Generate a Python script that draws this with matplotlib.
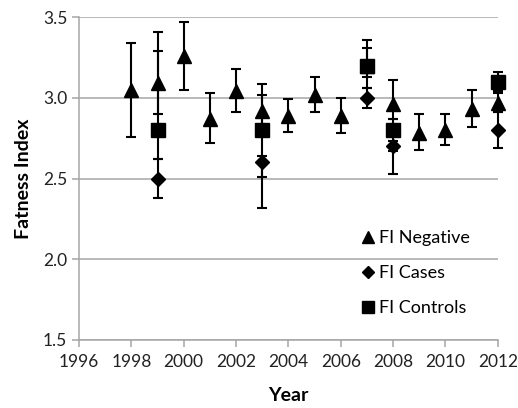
import matplotlib
matplotlib.use('Agg')
import matplotlib.pyplot as plt

plt.rcParams['font.family'] = ['Lato', 'DejaVu Sans']

# FI Negative (triangles)
neg_years = [1998, 1999, 2000, 2001, 2002, 2003, 2004, 2005, 2006, 2007, 2008, 2009, 2010, 2011, 2012]
neg_vals = [3.05, 3.09, 3.26, 2.87, 3.04, 2.92, 2.89, 3.02, 2.89, 3.20, 2.96, 2.78, 2.80, 2.93, 2.97]
neg_lo = [0.29, 0.19, 0.21, 0.15, 0.13, 0.10, 0.10, 0.11, 0.11, 0.14, 0.09, 0.10, 0.09, 0.11, 0.06]
neg_hi = [0.29, 0.32, 0.21, 0.16, 0.14, 0.165, 0.10, 0.11, 0.11, 0.11, 0.15, 0.12, 0.10, 0.12, 0.06]

# FI Cases (diamonds)
case_years = [1999, 2003, 2007, 2008, 2012]
case_vals = [2.50, 2.60, 3.00, 2.70, 2.80]
case_lo = [0.12, 0.09, 0.06, 0.03, 0.11]
case_hi = [0.12, 0.04, 0.06, 0.03, 0.11]

# FI Controls (squares)
ctrl_years = [1999, 2003, 2007, 2008, 2012]
ctrl_vals = [2.80, 2.80, 3.20, 2.80, 3.10]
ctrl_lo = [0.18, 0.48, 0.07, 0.27, 0.06]
ctrl_hi = [0.49, 0.22, 0.16, 0.07, 0.06]

grey = '#a6a6a6'

fig = plt.figure(figsize=(5.18, 4.08), dpi=100)
ax = fig.add_axes([0.1525, 0.1667, 0.8085, 0.7913])

ax.errorbar(neg_years, neg_vals, yerr=[neg_lo, neg_hi], fmt='^', color='black',
            markersize=9.5, elinewidth=1.5, capsize=3.5, capthick=1.5,
            label='FI Negative', clip_on=False, zorder=3)
ax.errorbar(case_years, case_vals, yerr=[case_lo, case_hi], fmt='D', color='black',
            markersize=7.5, elinewidth=1.5, capsize=3.5, capthick=1.5,
            label='FI Cases', clip_on=False, zorder=4)
ax.errorbar(ctrl_years, ctrl_vals, yerr=[ctrl_lo, ctrl_hi], fmt='s', color='black',
            markersize=10.5, elinewidth=1.5, capsize=3.5, capthick=1.5,
            label='FI Controls', clip_on=False, zorder=5)

ax.set_xlim(1996, 2012)
ax.set_ylim(1.5, 3.5)
ax.set_xticks(range(1996, 2013, 2))
ax.set_yticks([1.5, 2.0, 2.5, 3.0, 3.5])
ax.set_yticklabels(['1.5', '2.0', '2.5', '3.0', '3.5'])
ax.yaxis.grid(True, color=grey, linewidth=1.1)
ax.set_axisbelow(True)

for s in ['top', 'right']:
    ax.spines[s].set_visible(False)
for s in ['left', 'bottom']:
    ax.spines[s].set_color(grey)
    ax.spines[s].set_linewidth(1.1)
ax.tick_params(colors=grey, labelcolor='#222222', labelsize=12.5, length=5, width=1.1)
ax.tick_params(axis='x', pad=5)

ax.set_xlabel('Year', fontsize=14, fontweight='bold', labelpad=12)
ax.set_ylabel('Fatness Index', fontsize=14, fontweight='bold', labelpad=8)

handles, labels = ax.get_legend_handles_labels()
handles = [h[0] for h in handles]
ax.legend(handles, labels, loc='upper left', bbox_to_anchor=(0.63, 0.39),
          frameon=False, fontsize=13, labelspacing=1.05, handletextpad=0.1,
          handlelength=1.0, markerscale=0.85)

fig.savefig('out.png', dpi=100)
